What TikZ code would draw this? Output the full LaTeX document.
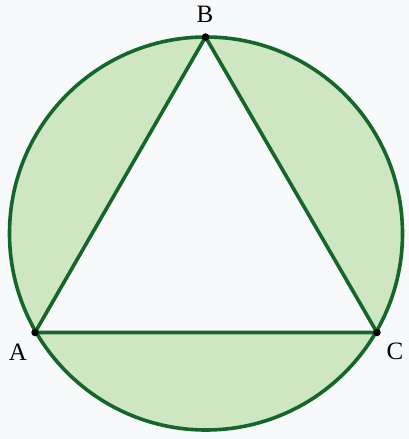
\documentclass[tikz,border=0pt]{standalone}
\usepackage{fontspec}
\setmainfont{Liberation Serif}
\definecolor{bgc}{HTML}{F8F9FA}
\definecolor{fillg}{HTML}{CFE6C3}
\definecolor{lineg}{HTML}{14662B}
\begin{document}
\begin{tikzpicture}[x=1pt,y=-1pt,
  edge/.style={draw=lineg,line width=3.6pt,line join=round},
  lbl/.style={font=\fontsize{25}{30}\selectfont,text=black,inner sep=0pt},
  pt/.style={circle,fill=black,inner sep=0pt,minimum size=7.5pt}]
\fill[bgc] (0,0) rectangle (409,439);
\useasboundingbox (0,0) rectangle (409,439);
\coordinate (O) at (206,233.5);
\coordinate (A) at (35,332.5);
\coordinate (B) at (205.5,37);
\coordinate (C) at (377,332.5);
\fill[fillg] (O) circle (196.5);
\fill[bgc] (A) -- (B) -- (C) -- cycle;
\draw[edge] (O) circle (196.5);
\draw[edge] (A) -- (B) -- (C) -- cycle;
\node[pt] (pA) at (A) {};
\node[pt] (pB) at (B) {};
\node[pt] (pC) at (C) {};
\node[lbl] (lA) at (18,352) {A};
\node[lbl] (lB) at (205,14) {B};
\node[lbl] (lC) at (395,351) {C};
\end{tikzpicture}
\end{document}
